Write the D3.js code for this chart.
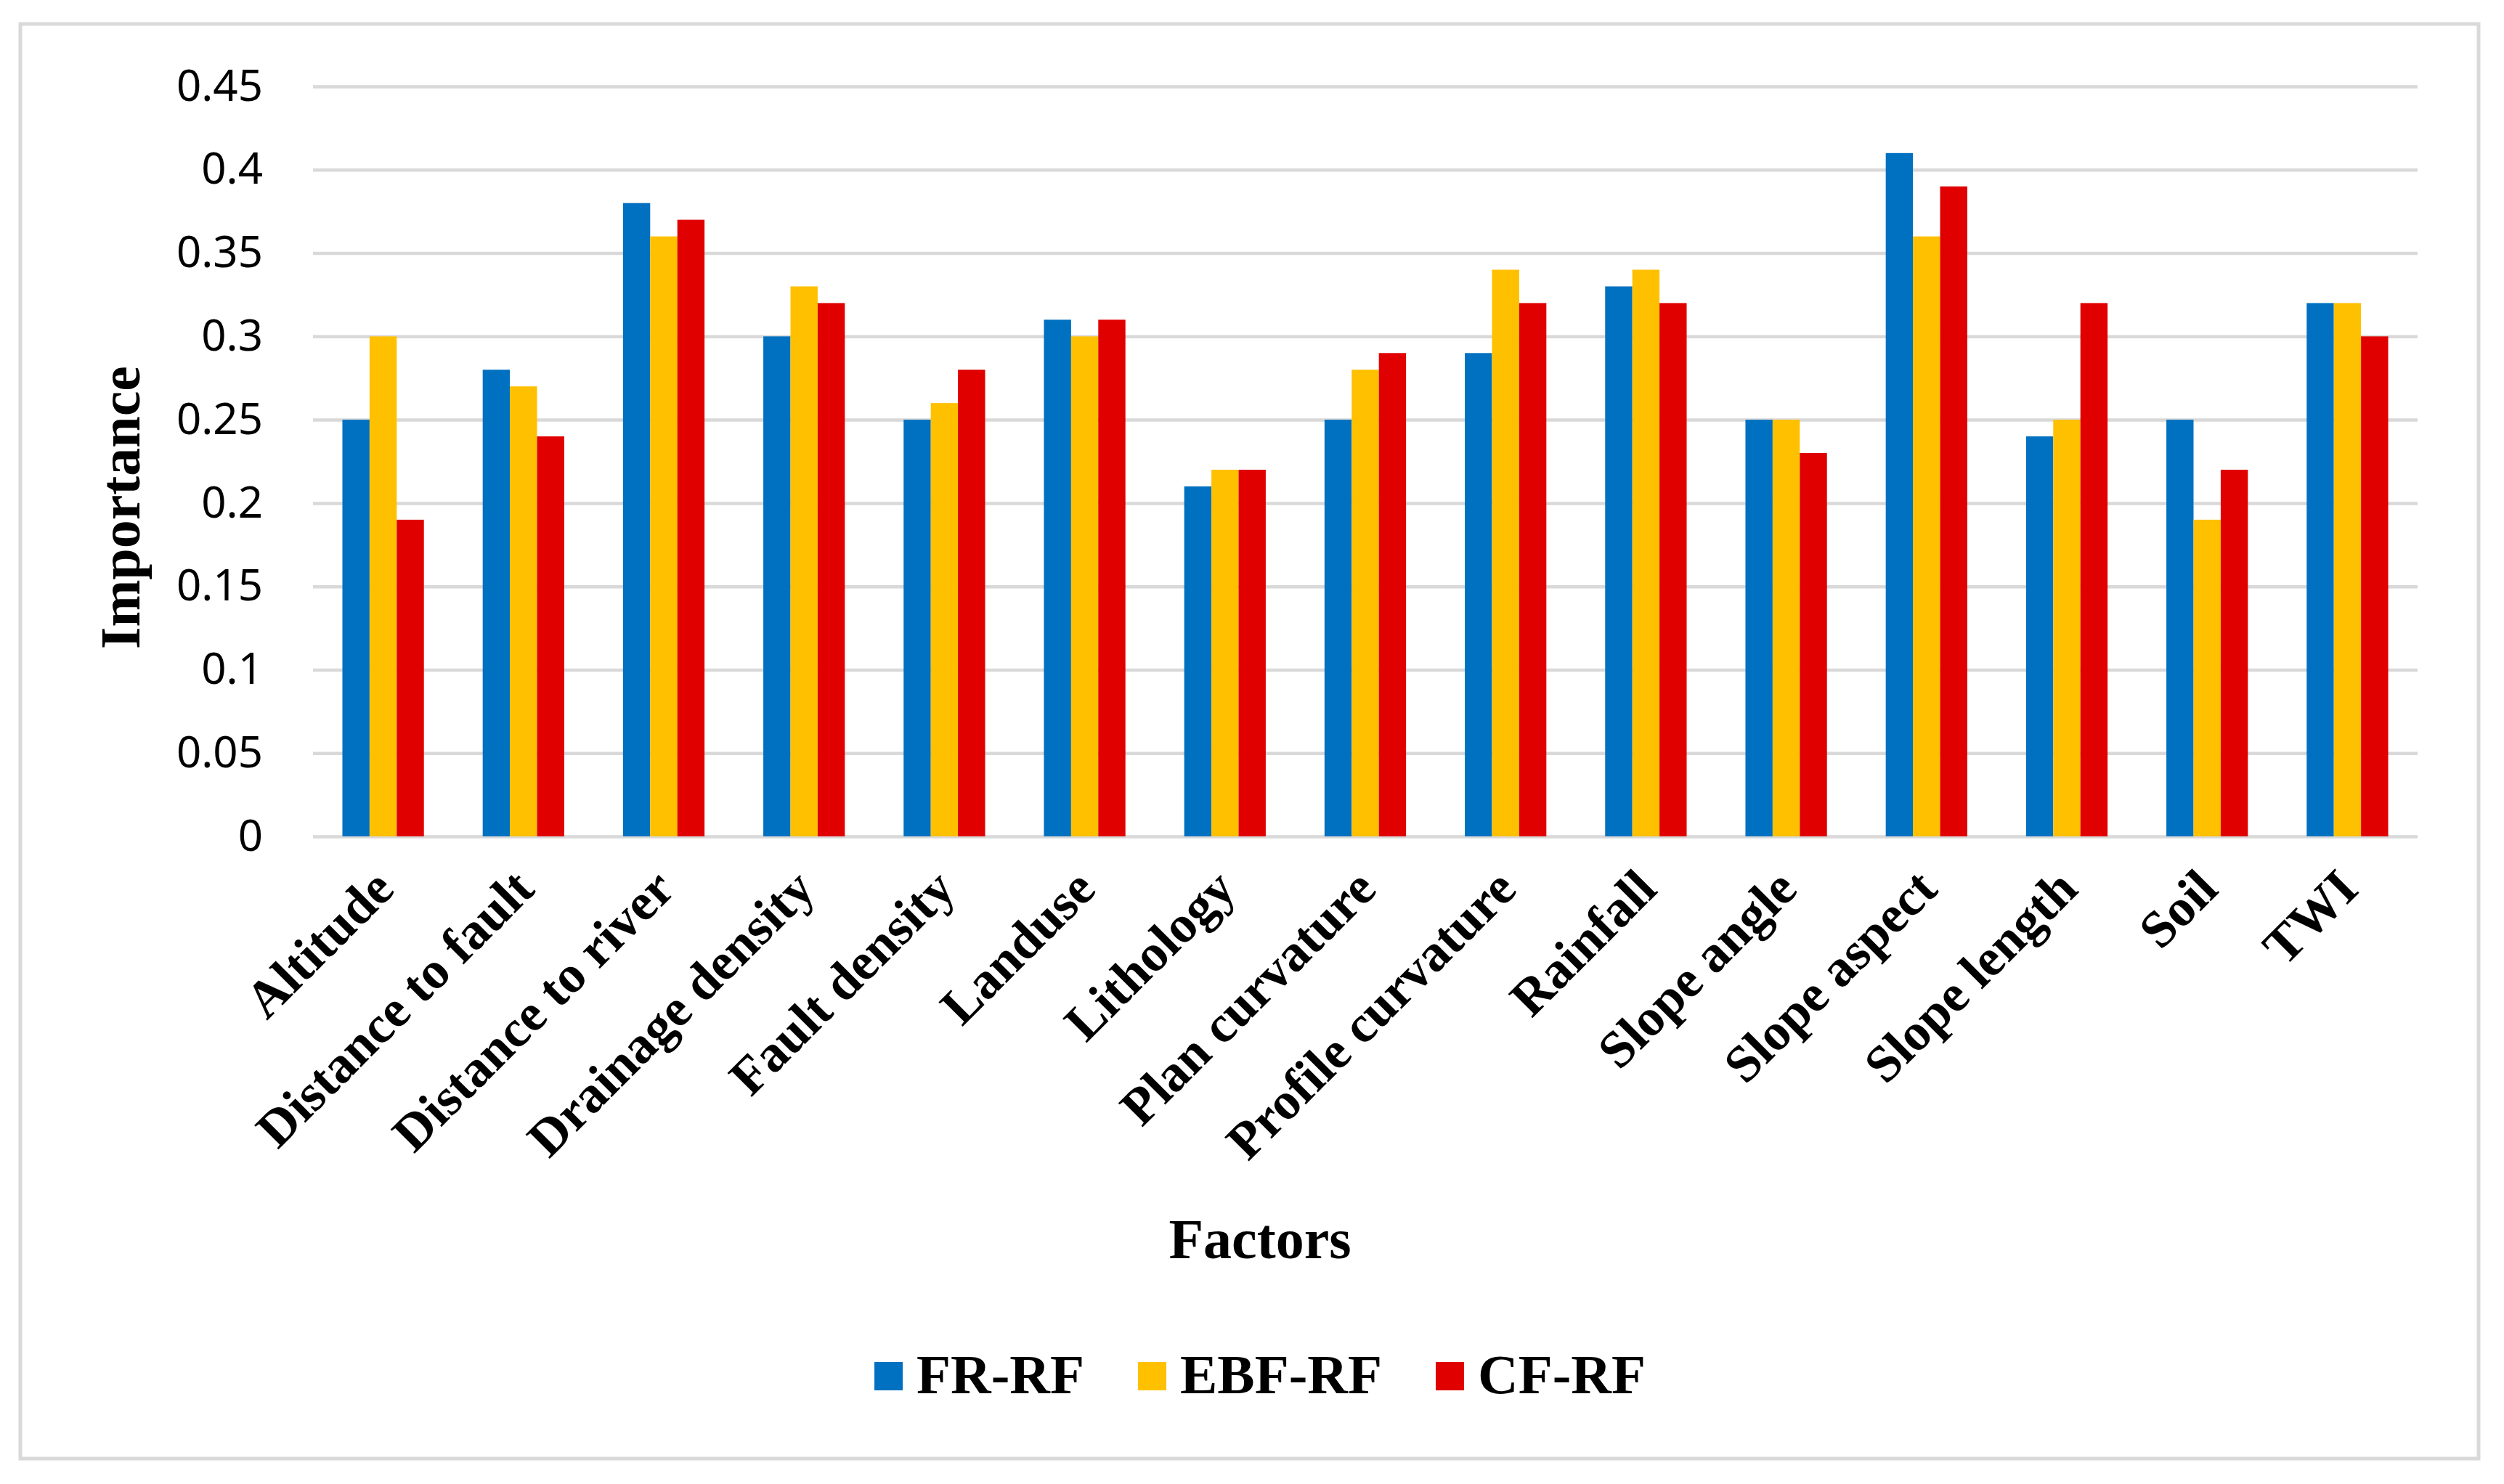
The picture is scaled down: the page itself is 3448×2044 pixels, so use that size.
<!DOCTYPE html>
<html>
<head>
<meta charset="utf-8">
<script src="https://cdn.jsdelivr.net/npm/d3@7"></script>
<style>
  body { margin: 0; background: #fff; }
  svg { display: block; }
</style>
</head>
<body>
<svg width="3448" height="2044"></svg>
<script>
let factors = ["Altitude", "Distance to fault", "Distance to river", "Drainage density", "Fault density",
  "Landuse", "Lithology", "Plan curvature", "Profile curvature", "Rainfall", "Slope angle",
  "Slope aspect", "Slope length", "Soil", "TWI"];
let seriesNames = ["FR-RF", "EBF-RF", "CF-RF"];
let frRF  = [0.25, 0.28, 0.38, 0.30, 0.25, 0.31, 0.21, 0.25, 0.29, 0.33, 0.25, 0.41, 0.24, 0.25, 0.32];
let ebfRF = [0.30, 0.27, 0.36, 0.33, 0.26, 0.30, 0.22, 0.28, 0.34, 0.34, 0.25, 0.36, 0.25, 0.19, 0.32];
let cfRF  = [0.19, 0.24, 0.37, 0.32, 0.28, 0.31, 0.22, 0.29, 0.32, 0.32, 0.23, 0.39, 0.32, 0.22, 0.30];
let yTicks = [0, 0.05, 0.1, 0.15, 0.2, 0.25, 0.3, 0.35, 0.4, 0.45];
let yTickLabels = ["0", "0.05", "0.1", "0.15", "0.2", "0.25", "0.3", "0.35", "0.4", "0.45"];

let colors = ["#0070c0", "#ffc000", "#e00000"];
let serif = "'Liberation Serif', 'Times New Roman', serif";

let svg = d3.select('svg');
svg.append('rect').attr('width', 3448).attr('height', 2044).attr('fill', '#fff');

// chart border
svg.append('rect')
  .attr('x', 28).attr('y', 33)
  .attr('width', 3385).attr('height', 1976)
  .attr('fill', 'none')
  .attr('stroke', '#d9d9d9')
  .attr('stroke-width', 5);

let plotLeft = 431, plotRight = 3329, plotTop = 119, plotBottom = 1152;

let y = d3.scaleLinear().domain([0, 0.45]).range([plotBottom, plotTop]);

let x0 = d3.scaleBand()
  .domain(factors)
  .range([plotLeft, plotRight])
  .paddingInner(0.419)
  .paddingOuter(0.2095);

let x1 = d3.scaleBand()
  .domain(seriesNames)
  .range([0, x0.bandwidth()]);

// gridlines + y labels
let yAxis = svg.append('g')
  .attr('transform', `translate(${plotLeft},0)`)
  .call(d3.axisLeft(y)
    .tickValues(yTicks)
    .tickFormat((d, i) => yTickLabels[i])
    .tickSize(-(plotRight - plotLeft))
    .tickPadding(69));

yAxis.select('.domain').remove();
yAxis.selectAll('line').attr('stroke', '#d9d9d9').attr('stroke-width', 4.5);
yAxis.selectAll('text')
  .attr('fill', '#000')
  .style('font-family', "'Noto Sans', sans-serif")
  .style('font-size', '60px');

// bars
let rows = factors.map((f, i) => ({ factor: f, values: [frRF[i], ebfRF[i], cfRF[i]] }));

svg.append('g')
  .selectAll('g')
  .data(rows)
  .enter()
  .append('g')
  .attr('transform', d => `translate(${x0(d.factor)},0)`)
  .selectAll('rect')
  .data(d => d.values.map((v, j) => ({ key: seriesNames[j], value: v, color: colors[j] })))
  .enter()
  .append('rect')
  .attr('x', d => x1(d.key))
  .attr('width', x1.bandwidth())
  .attr('y', d => y(d.value))
  .attr('height', d => y(0) - y(d.value))
  .attr('fill', d => d.color);

// x labels, rotated
svg.append('g')
  .selectAll('text')
  .data(factors)
  .enter()
  .append('text')
  .attr('transform', d => `translate(${x0(d) + x0.bandwidth() / 2 + 18},1228) rotate(-45)`)
  .attr('text-anchor', 'end')
  .style('font-family', serif)
  .style('font-weight', 'bold')
  .style('font-size', '72px')
  .text(d => d);

// axis titles
svg.append('text')
  .attr('transform', 'translate(192,699) rotate(-90)')
  .attr('text-anchor', 'middle')
  .style('font-family', serif)
  .style('font-weight', 'bold')
  .style('font-size', '78px')
  .text('Importance');

svg.append('text')
  .attr('x', 1735).attr('y', 1733)
  .attr('text-anchor', 'middle')
  .style('font-family', serif)
  .style('font-weight', 'bold')
  .style('font-size', '78px')
  .text('Factors');

// legend
let legend = svg.append('g');
let pos = 0;
seriesNames.forEach((name, i) => {
  let item = legend.append('g').attr('transform', `translate(${pos},0)`);
  item.append('rect')
    .attr('x', 0).attr('y', 1876)
    .attr('width', 39).attr('height', 39)
    .attr('fill', colors[i]);
  let t = item.append('text')
    .attr('x', 58).attr('y', 1919)
    .style('font-family', serif)
    .style('font-weight', 'bold')
    .style('font-size', '77px')
    .text(name);
  pos += 58 + t.node().getComputedTextLength() + 74;
});
let legendWidth = pos - 74;
legend.attr('transform', `translate(${1735 - legendWidth / 2},0)`);
</script>
</body>
</html>
